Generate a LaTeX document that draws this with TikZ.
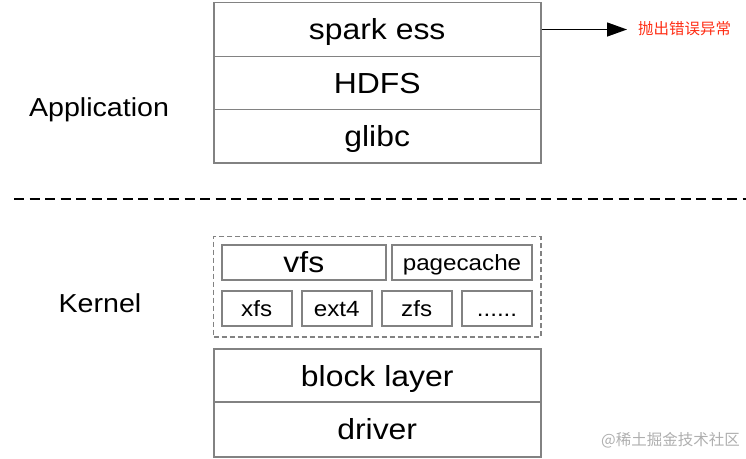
\documentclass[tikz,border=0pt]{standalone}
\usepackage{fontspec}
\setmainfont{Liberation Sans}[FakeStretch=1.1]
\newfontfamily\cjk{Noto Sans CJK SC}
\usetikzlibrary{arrows.meta}
\definecolor{boxgray}{RGB}{130,130,130}
\definecolor{errred}{RGB}{255,45,20}
\definecolor{wmgray}{RGB}{175,175,175}
\begin{document}
\begin{tikzpicture}[x=1pt,y=-1pt,
  box/.style={draw=boxgray, line width=1.8pt, inner sep=0pt, text height=20.9pt, text depth=0pt, font=\fontsize{29}{34}\selectfont},
  smallbox/.style={box, text height=15.8pt, font=\fontsize{22}{26}\selectfont},
  label/.style={inner sep=0pt, text height=18.7pt, text depth=0pt, font=\fontsize{26}{30}\selectfont},
  groupbox/.style={draw=boxgray, line width=1.8pt, dash pattern=on 5pt off 3pt, inner sep=0pt},
  sep/.style={draw=black, line width=2pt, dash pattern=on 10pt off 5.5pt},
  errtext/.style={text=errred, inner sep=0pt, anchor=west, font=\cjk\fontsize{15.5}{18}\selectfont},
  wm/.style={text=wmgray, inner sep=0pt, anchor=west, font=\cjk\fontsize{15.5}{18}\selectfont}
]
\useasboundingbox (0,0) rectangle (746,458);

% Application stack
\node[box, minimum width=327pt, minimum height=54pt] (spark) at (377.2,29.5) {spark ess};
\node[box, minimum width=327pt, minimum height=53pt] (hdfs) at (377.2,83) {HDFS};
\node[box, minimum width=327pt, minimum height=53.5pt] (glibc) at (377.2,136.3) {glibc};
\node[label] (app) at (99,107) {Application};

% error arrow
\node[errtext] (err) at (638,29) {抛出错误异常};
\draw[-{Triangle[length=20pt,width=14pt]}, line width=1.3pt, shorten >=11pt] (spark.east) -- (spark.east -| err.west);

% separator
\coordinate (sepL) at (14,199);
\coordinate (sepR) at (746,199);
\draw[sep] (sepL) -- (sepR);

% Kernel
\node[label] (kern) at (100,303) {Kernel};
\node[groupbox, minimum width=327.2pt, minimum height=100.5pt] (kbox) at (377.1,286.8) {};
\node[box, minimum width=164.3pt, minimum height=35pt] (vfs) at (303.85,262.5) {vfs};
\node[smallbox, minimum width=140.6pt, minimum height=35pt] (pc) at (462,262.5) {pagecache};
\node[smallbox, minimum width=70pt, minimum height=35.3pt] (xfs) at (256.7,308.35) {xfs};
\node[smallbox, minimum width=70pt, minimum height=35.3pt] (ext) at (336.7,308.35) {ext4};
\node[smallbox, minimum width=70pt, minimum height=35.3pt] (zfs) at (416.7,308.35) {zfs};
\node[smallbox, minimum width=70.6pt, minimum height=35.3pt] (dots) at (497,308.35) {......};

\node[box, minimum width=327pt, minimum height=53.3pt] (block) at (377.2,375.65) {block layer};
\node[box, minimum width=327pt, minimum height=54.4pt] (driver) at (377.2,429.5) {driver};

% watermark
\node[wm] (mark) at (601,440) {@稀土掘金技术社区};
\end{tikzpicture}
\end{document}
